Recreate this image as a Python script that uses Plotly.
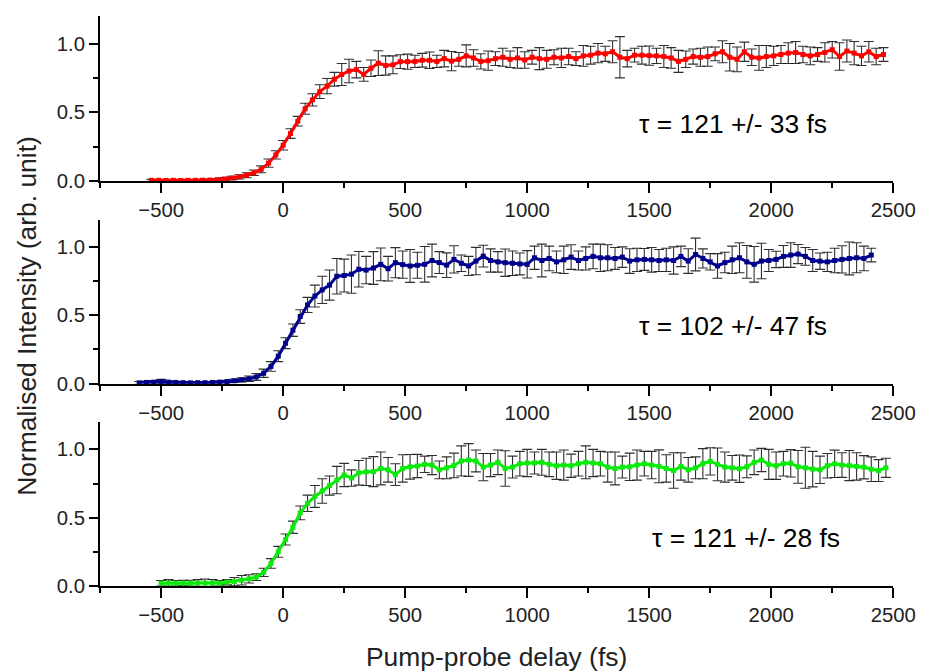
import plotly.graph_objects as go

# ---------------- data ----------------
red_x = [-540, -510, -480, -450, -420, -390, -360, -330, -300, -270,
         -240, -210, -180, -150, -120, -90, -60, -30, 0, 30,
         60, 90, 120, 150, 180, 210, 240, 270, 300, 330,
         360, 390, 420, 450, 480, 510, 540, 570, 600, 630,
         660, 690, 720, 750, 780, 810, 840, 870, 900, 930,
         960, 990, 1020, 1050, 1080, 1110, 1140, 1170, 1200, 1230,
         1260, 1290, 1320, 1350, 1380, 1410, 1440, 1470, 1500, 1530,
         1560, 1590, 1620, 1650, 1680, 1710, 1740, 1770, 1800, 1830,
         1860, 1890, 1920, 1950, 1980, 2010, 2040, 2070, 2100, 2130,
         2160, 2190, 2220, 2250, 2280, 2310, 2340, 2370, 2400, 2430,
         2460]
red_y = [0.005, 0.005, 0.004, 0.005, 0.004, 0.005, 0.005, 0.006, 0.007, 0.01,
         0.015, 0.022, 0.03, 0.042, 0.06, 0.085, 0.13, 0.19, 0.26, 0.345,
         0.435, 0.525, 0.59, 0.65, 0.69, 0.74, 0.775, 0.8, 0.81, 0.775,
         0.82, 0.857, 0.84, 0.845, 0.868, 0.868, 0.87, 0.878, 0.878, 0.87,
         0.89, 0.872, 0.885, 0.91, 0.895, 0.87, 0.875, 0.89, 0.9, 0.885,
         0.895, 0.88, 0.9, 0.89, 0.885, 0.9, 0.895, 0.905, 0.89, 0.91,
         0.915, 0.93, 0.925, 0.94, 0.9, 0.89, 0.915, 0.915, 0.912, 0.91,
         0.905, 0.895, 0.87, 0.885, 0.905, 0.9, 0.905, 0.925, 0.94, 0.9,
         0.885, 0.94, 0.9, 0.895, 0.905, 0.91, 0.92, 0.93, 0.935, 0.92,
         0.91, 0.92, 0.935, 0.955, 0.905, 0.945, 0.93, 0.91, 0.94, 0.905,
         0.92]
red_err = [0.008, 0.006, 0.005, 0.006, 0.005, 0.006, 0.005, 0.006, 0.007, 0.008,
           0.01, 0.012, 0.015, 0.018, 0.02, 0.025, 0.03, 0.03, 0.035, 0.035,
           0.035, 0.04, 0.045, 0.05, 0.055, 0.05, 0.08, 0.085, 0.06, 0.05,
           0.06, 0.09, 0.07, 0.065, 0.05, 0.055, 0.045, 0.05, 0.06, 0.045,
           0.06, 0.07, 0.05, 0.08, 0.06, 0.055, 0.07, 0.05, 0.065, 0.06,
           0.075, 0.06, 0.05, 0.08, 0.065, 0.055, 0.07, 0.06, 0.05, 0.075,
           0.065, 0.07, 0.055, 0.08, 0.15, 0.06, 0.05, 0.065, 0.07, 0.055,
           0.08, 0.075, 0.08, 0.06, 0.055, 0.065, 0.07, 0.05, 0.08, 0.1,
           0.09, 0.07, 0.06, 0.09, 0.08, 0.07, 0.065, 0.075, 0.08, 0.06,
           0.065, 0.05, 0.07, 0.06, 0.1, 0.08, 0.085, 0.07, 0.075, 0.06,
           0.05]

blue_x = [-590, -560, -530, -500, -470, -440, -410, -380, -350, -320,
          -290, -260, -230, -200, -170, -140, -110, -80, -50, -20,
          10, 40, 70, 100, 130, 160, 190, 220, 250, 280,
          310, 340, 370, 400, 430, 460, 490, 520, 550, 580,
          610, 640, 670, 700, 730, 760, 790, 820, 850, 880,
          910, 940, 970, 1000, 1030, 1060, 1090, 1120, 1150, 1180,
          1210, 1240, 1270, 1300, 1330, 1360, 1390, 1420, 1450, 1480,
          1510, 1540, 1570, 1600, 1630, 1660, 1690, 1720, 1750, 1780,
          1810, 1840, 1870, 1900, 1930, 1960, 1990, 2020, 2050, 2080,
          2110, 2140, 2170, 2200, 2230, 2260, 2290, 2320, 2350, 2380,
          2410]
blue_y = [0.005, 0.008, 0.01, 0.015, 0.01, 0.008, 0.006, 0.005, 0.006, 0.006,
          0.008, 0.01, 0.014, 0.02, 0.027, 0.035, 0.048, 0.075, 0.125, 0.2,
          0.295, 0.39, 0.49, 0.575, 0.64, 0.685, 0.72, 0.785, 0.79, 0.8,
          0.836, 0.83, 0.845, 0.872, 0.84, 0.884, 0.87, 0.86, 0.865, 0.872,
          0.9, 0.885, 0.866, 0.908, 0.88, 0.86, 0.896, 0.932, 0.9, 0.89,
          0.884, 0.88, 0.875, 0.872, 0.92, 0.9, 0.915, 0.89, 0.905, 0.925,
          0.9, 0.915, 0.93, 0.92, 0.92, 0.915, 0.925, 0.896, 0.905, 0.908,
          0.905, 0.9, 0.905, 0.9, 0.93, 0.896, 0.944, 0.915, 0.89, 0.86,
          0.885, 0.905, 0.92, 0.89, 0.872, 0.896, 0.9, 0.908, 0.93, 0.94,
          0.947, 0.93, 0.9, 0.895, 0.89, 0.9, 0.908, 0.915, 0.92, 0.915,
          0.94]
blue_err = [0.01, 0.01, 0.012, 0.015, 0.01, 0.008, 0.006, 0.006, 0.006, 0.006,
            0.007, 0.008, 0.01, 0.012, 0.015, 0.02, 0.025, 0.03, 0.035, 0.04,
            0.04, 0.045, 0.05, 0.055, 0.08, 0.1, 0.11, 0.13, 0.12, 0.14,
            0.13, 0.1, 0.12, 0.12, 0.09, 0.11, 0.1, 0.12, 0.095, 0.13,
            0.12, 0.08, 0.09, 0.1, 0.06, 0.07, 0.1, 0.08, 0.085, 0.075,
            0.1, 0.09, 0.08, 0.1, 0.085, 0.12, 0.09, 0.08, 0.1, 0.09,
            0.07, 0.085, 0.09, 0.1, 0.095, 0.08, 0.075, 0.09, 0.085, 0.08,
            0.09, 0.08, 0.085, 0.1, 0.075, 0.09, 0.12, 0.07, 0.06, 0.09,
            0.075, 0.1, 0.11, 0.12, 0.13, 0.13, 0.08, 0.06, 0.08, 0.09,
            0.07, 0.065, 0.08, 0.06, 0.07, 0.09, 0.1, 0.12, 0.11, 0.09,
            0.05]

green_x = [-500, -470, -440, -410, -380, -350, -320, -290, -260, -230,
           -200, -170, -140, -110, -80, -50, -20, 10, 40, 70,
           100, 130, 160, 190, 220, 250, 280, 310, 340, 370,
           400, 430, 460, 490, 520, 550, 580, 610, 640, 670,
           700, 730, 760, 790, 820, 850, 880, 910, 940, 970,
           1000, 1030, 1060, 1090, 1120, 1150, 1180, 1210, 1240, 1270,
           1300, 1330, 1360, 1390, 1420, 1450, 1480, 1510, 1540, 1570,
           1600, 1630, 1660, 1690, 1720, 1750, 1780, 1810, 1840, 1870,
           1900, 1930, 1960, 1990, 2020, 2050, 2080, 2110, 2140, 2170,
           2200, 2230, 2260, 2290, 2320, 2350, 2380, 2410, 2440, 2470]
green_y = [0.02, 0.022, 0.02, 0.021, 0.02, 0.022, 0.021, 0.023, 0.02, 0.028,
           0.032, 0.042, 0.052, 0.065, 0.1, 0.165, 0.25, 0.34, 0.43, 0.535,
           0.605, 0.655, 0.695, 0.735, 0.775, 0.812, 0.79, 0.828, 0.835, 0.837,
           0.86, 0.85, 0.815, 0.86, 0.872, 0.878, 0.89, 0.885, 0.85, 0.865,
           0.882, 0.915, 0.922, 0.915, 0.87, 0.885, 0.905, 0.86, 0.87, 0.895,
           0.9, 0.9, 0.905, 0.89, 0.88, 0.885, 0.88, 0.895, 0.905, 0.9,
           0.895, 0.87, 0.86, 0.87, 0.872, 0.885, 0.895, 0.885, 0.876, 0.86,
           0.845, 0.875, 0.85, 0.865, 0.895, 0.912, 0.89, 0.87, 0.865, 0.858,
           0.872, 0.905, 0.922, 0.89, 0.88, 0.895, 0.898, 0.872, 0.865, 0.855,
           0.85, 0.88, 0.894, 0.885, 0.881, 0.875, 0.869, 0.855, 0.845, 0.865]
green_err = [0.02, 0.025, 0.02, 0.02, 0.022, 0.025, 0.03, 0.025, 0.02, 0.02,
             0.03, 0.035, 0.03, 0.025, 0.03, 0.035, 0.04, 0.04, 0.045, 0.05,
             0.06, 0.08, 0.09, 0.07, 0.1, 0.085, 0.06, 0.09, 0.1, 0.11,
             0.12, 0.09, 0.08, 0.1, 0.09, 0.085, 0.06, 0.07, 0.065, 0.08,
             0.09, 0.11, 0.12, 0.08, 0.1, 0.085, 0.09, 0.13, 0.08, 0.09,
             0.1, 0.08, 0.095, 0.09, 0.1, 0.11, 0.085, 0.09, 0.12, 0.1,
             0.09, 0.11, 0.12, 0.08, 0.1, 0.11, 0.09, 0.1, 0.12, 0.1,
             0.13, 0.1, 0.09, 0.08, 0.11, 0.1, 0.12, 0.11, 0.09, 0.1,
             0.08, 0.09, 0.085, 0.11, 0.1, 0.09, 0.1, 0.12, 0.15, 0.13,
             0.1, 0.09, 0.1, 0.09, 0.11, 0.1, 0.085, 0.09, 0.08, 0.07]

x_tick_vals = [-500, 0, 500, 1000, 1500, 2000, 2500]
y_tick_vals = [0.0, 0.5, 1.0]
labels = ["τ = 121 +/- 33 fs", "τ = 102 +/- 47 fs", "τ = 121 +/- 28 fs"]
colors = ["#FF0000", "#00008C", "#0AEB0A"]

# ---------------- figure ----------------
W, H = 927, 672                  # reference picture size (layout designed in these pixels)
K = 1 / 0.984                    # the page is photographed slightly shrunk; enlarge to compensate
FW, FH = round(W * K), round(H * K)
FONT = "Liberation Sans, Arial, sans-serif"

series = [(red_x, red_y, red_err), (blue_x, blue_y, blue_err), (green_x, green_y, green_err)]
# panel pixel extents (top, bottom) of plot areas, in reference pixels
panels_px = [(16, 181), (219.5, 383.5), (422, 586)]
x_dom = [101 / W, 901 / W]

fig = go.Figure()
for i, ((xs, ys, es), col) in enumerate(zip(series, colors)):
    xa = "x" if i == 0 else f"x{i+1}"
    ya = "y" if i == 0 else f"y{i+1}"
    # error bars (drawn underneath)
    fig.add_trace(go.Scatter(
        x=xs, y=ys, mode="markers", xaxis=xa, yaxis=ya,
        marker=dict(size=1, color="rgba(0,0,0,0)"),
        error_y=dict(type="data", array=es, visible=True,
                     color="rgba(25,25,25,0.9)", thickness=1.1, width=5),
        showlegend=False, hoverinfo="skip", cliponaxis=False))
    # data line with square markers
    fig.add_trace(go.Scatter(
        x=xs, y=ys, mode="lines+markers", xaxis=xa, yaxis=ya,
        line=dict(color=col, width=3),
        marker=dict(symbol="square", size=5, color=col),
        showlegend=False, cliponaxis=False))

axis_common = dict(
    showline=True, linecolor="black", linewidth=2,
    ticks="outside", tickcolor="black", tickwidth=1.5,
    showgrid=False, zeroline=False,
    tickfont=dict(family=FONT, size=20 * K, color="#222"),
)
layout = dict(
    width=FW, height=FH,
    margin=dict(l=0, r=0, t=0, b=0),
    paper_bgcolor="white", plot_bgcolor="white",
    showlegend=False,
)
for i, (top, bot) in enumerate(panels_px):
    xk = "xaxis" if i == 0 else f"xaxis{i+1}"
    yk = "yaxis" if i == 0 else f"yaxis{i+1}"
    ya = "y" if i == 0 else f"y{i+1}"
    xa = "x" if i == 0 else f"x{i+1}"
    layout[xk] = dict(axis_common, domain=x_dom, anchor=ya, range=[-750, 2500],
                      tickvals=x_tick_vals, ticklen=10,
                      minor=dict(dtick=250, tick0=-250, ticklen=5, ticks="outside",
                                 tickcolor="black", tickwidth=1.5))
    layout[yk] = dict(axis_common, domain=[1 - bot / H, 1 - top / H], anchor=xa,
                      range=[0, 1.2], tickvals=y_tick_vals, tickformat=".1f",
                      ticklen=9,
                      minor=dict(dtick=0.25, tick0=0.25, ticklen=5, ticks="outside",
                                 tickcolor="black", tickwidth=1.5))
fig.update_layout(**layout)

# tau annotations
ann_pos = [(739, 124), (739, 326), (752, 538)]
for (px, py), txt in zip(ann_pos, labels):
    fig.add_annotation(x=px / W, y=1 - py / H, xref="paper", yref="paper",
                       text=txt, showarrow=False, xanchor="center", yanchor="middle",
                       font=dict(family=FONT, size=26 * K, color="black"))

# axis titles
fig.add_annotation(x=501 / W, y=1 - 657 / H, xref="paper", yref="paper",
                   text="Pump-probe delay (fs)", showarrow=False,
                   xanchor="center", yanchor="middle",
                   font=dict(family=FONT, size=26 * K, color="#222"))
fig.add_annotation(x=27 / W, y=1 - 316 / H, xref="paper", yref="paper",
                   text="Normalised Intensity (arb. unit)", showarrow=False,
                   textangle=-90, xanchor="center", yanchor="middle",
                   font=dict(family=FONT, size=26 * K, color="#222"))

ps = ("document.body.style.margin='0px';"
      "document.documentElement.style.overflow='hidden';"
      "document.body.style.overflow='hidden';")
fig.write_html("out.html", post_script=ps, config={"displayModeBar": False})
